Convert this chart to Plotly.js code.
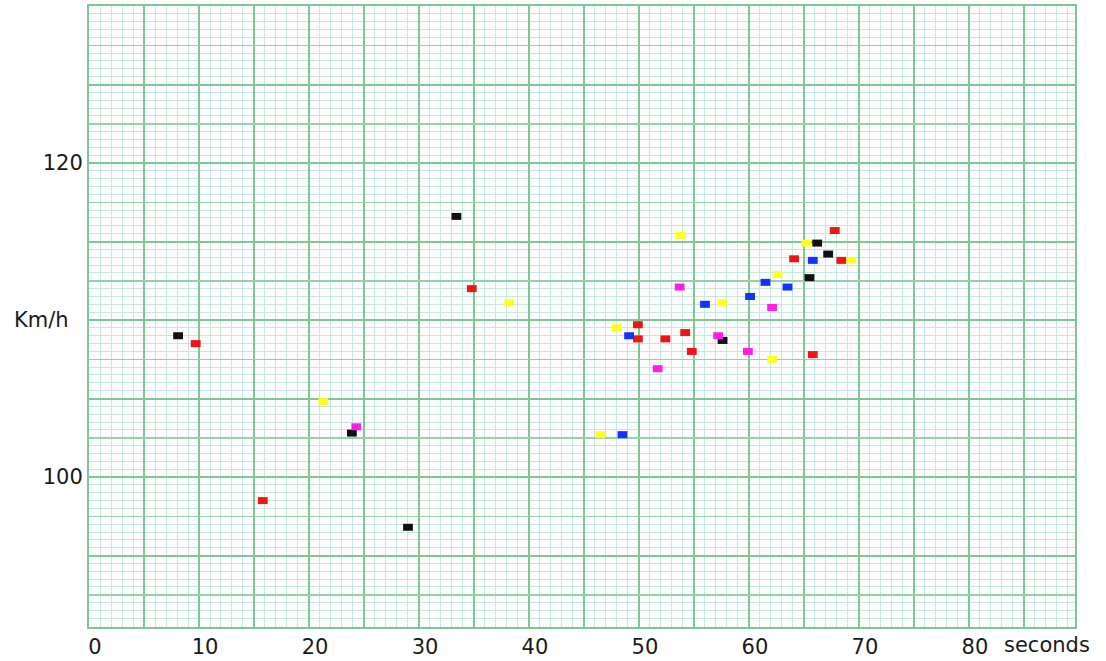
<!DOCTYPE html>
<html>
<head>
<meta charset="utf-8">
<script src="https://cdn.plot.ly/plotly-3.0.1.min.js"></script>
<style>html,body{margin:0;padding:0;background:#fff;}#chart{width:1106px;height:661px;}</style>
</head>
<body>
<div id="chart"></div>
<script>
// Time (seconds) and speed (Km/h) readings, one set per colour
const blackX   = [8.1, 23.9, 29.0, 33.4, 57.6, 65.5, 66.2, 67.2];
const blackY   = [109.0, 102.8, 96.8, 116.6, 108.7, 112.7, 114.9, 114.2];
const redX     = [9.7, 15.8, 34.8, 49.9, 49.9, 52.4, 54.2, 54.8, 64.1, 65.8, 67.8, 68.4];
const redY     = [108.5, 98.5, 112.0, 109.7, 108.8, 108.8, 109.2, 108.0, 113.9, 107.8, 115.7, 113.8];
const yellowX  = [21.3, 38.2, 46.5, 48.0, 53.8, 57.6, 62.1, 62.6, 65.2, 69.3];
const yellowY  = [104.8, 111.1, 102.7, 109.5, 115.4, 111.1, 107.5, 112.9, 114.9, 113.8];
const magentaX = [24.3, 51.7, 53.7, 57.2, 59.9, 62.1];
const magentaY = [103.2, 106.9, 112.1, 109.0, 108.0, 110.8];
const blueX    = [48.5, 49.1, 56.0, 60.1, 61.5, 63.5, 65.8];
const blueY    = [102.7, 109.0, 111.0, 111.5, 112.4, 112.1, 113.8];

const xTickVals = [0,5,10,15,20,25,30,35,40,45,50,55,60,65,70,75,80,85];
const xTickText = ['0','','10','','20','','30','','40','','50','','60','','70','','80',''];
const yTickVals = [92.5,95,97.5,100,102.5,105,107.5,110,112.5,115,117.5,120,122.5,125,127.5];
const yTickText = ['','','','100','','','','','','','','120','','',''];
const yMajorVals = [95,100,105,110,115,120,125];

function series(x, y, color) {
  return {
    x: x, y: y, type: 'scatter', mode: 'markers', showlegend: false, hoverinfo: 'x+y',
    marker: {symbol: 'line-ew', size: 7, color: color, line: {color: color, width: 7}}
  };
}

const traces = [
  {x: [null], y: [null], xaxis: 'x', yaxis: 'y2', type: 'scatter', mode: 'markers', showlegend: false, hoverinfo: 'skip'},
  series(blackX, blackY, '#111111'),
  series(redX, redY, '#f01414'),
  series(yellowX, yellowY, '#ffff1e'),
  series(magentaX, magentaY, '#ff1ee6'),
  series(blueX, blueY, '#1432ff')
];

const thick = '#7cc795';
const medium = '#95d0a9';
const thin = '#c6e7df';
const tickFont = {family: 'DejaVu Sans, sans-serif', size: 21, color: '#1a1a1a'};

const layout = {
  width: 1106, height: 661,
  margin: {l: 89, r: 31, t: 6, b: 34},
  paper_bgcolor: '#ffffff',
  plot_bgcolor: '#fbfcfb',
  xaxis: {
    range: [0, 89.64], fixedrange: true,
    tickmode: 'array', tickvals: xTickVals, ticktext: xTickText,
    showgrid: true, gridcolor: thick, gridwidth: 2,
    minor: {tickmode: 'linear', tick0: 0, dtick: 1, showgrid: true, gridcolor: thin, gridwidth: 1},
    zeroline: false, ticks: '', tickfont: tickFont, ticklabelshift: 6,
    showline: true, linecolor: thick, linewidth: 2, mirror: true
  },
  yaxis: {
    range: [90.45, 130], fixedrange: true,
    tickmode: 'array', tickvals: yTickVals, ticktext: yTickText,
    showgrid: true, gridcolor: medium, gridwidth: 1.5,
    minor: {tickmode: 'linear', tick0: 0, dtick: 0.5, showgrid: true, gridcolor: thin, gridwidth: 1},
    zeroline: false, ticks: '', tickfont: tickFont,
    showline: true, linecolor: thick, linewidth: 2, mirror: true
  },
  yaxis2: {
    range: [90.45, 130], overlaying: 'y', fixedrange: true,
    tickmode: 'array', tickvals: yMajorVals,
    showgrid: true, gridcolor: thick, gridwidth: 2,
    showticklabels: false, zeroline: false, ticks: ''
  },
  annotations: [
    {text: 'Km/h', xref: 'paper', yref: 'y', x: -0.078, y: 110, xanchor: 'left', yanchor: 'middle',
     showarrow: false, font: tickFont},
    {text: 'seconds', xref: 'paper', yref: 'paper', x: 0.926, y: -0.029, xanchor: 'left', yanchor: 'middle',
     showarrow: false, font: tickFont}
  ],
  showlegend: false
};

Plotly.newPlot('chart', traces, layout, {displayModeBar: false, staticPlot: true});
</script>
</body>
</html>
